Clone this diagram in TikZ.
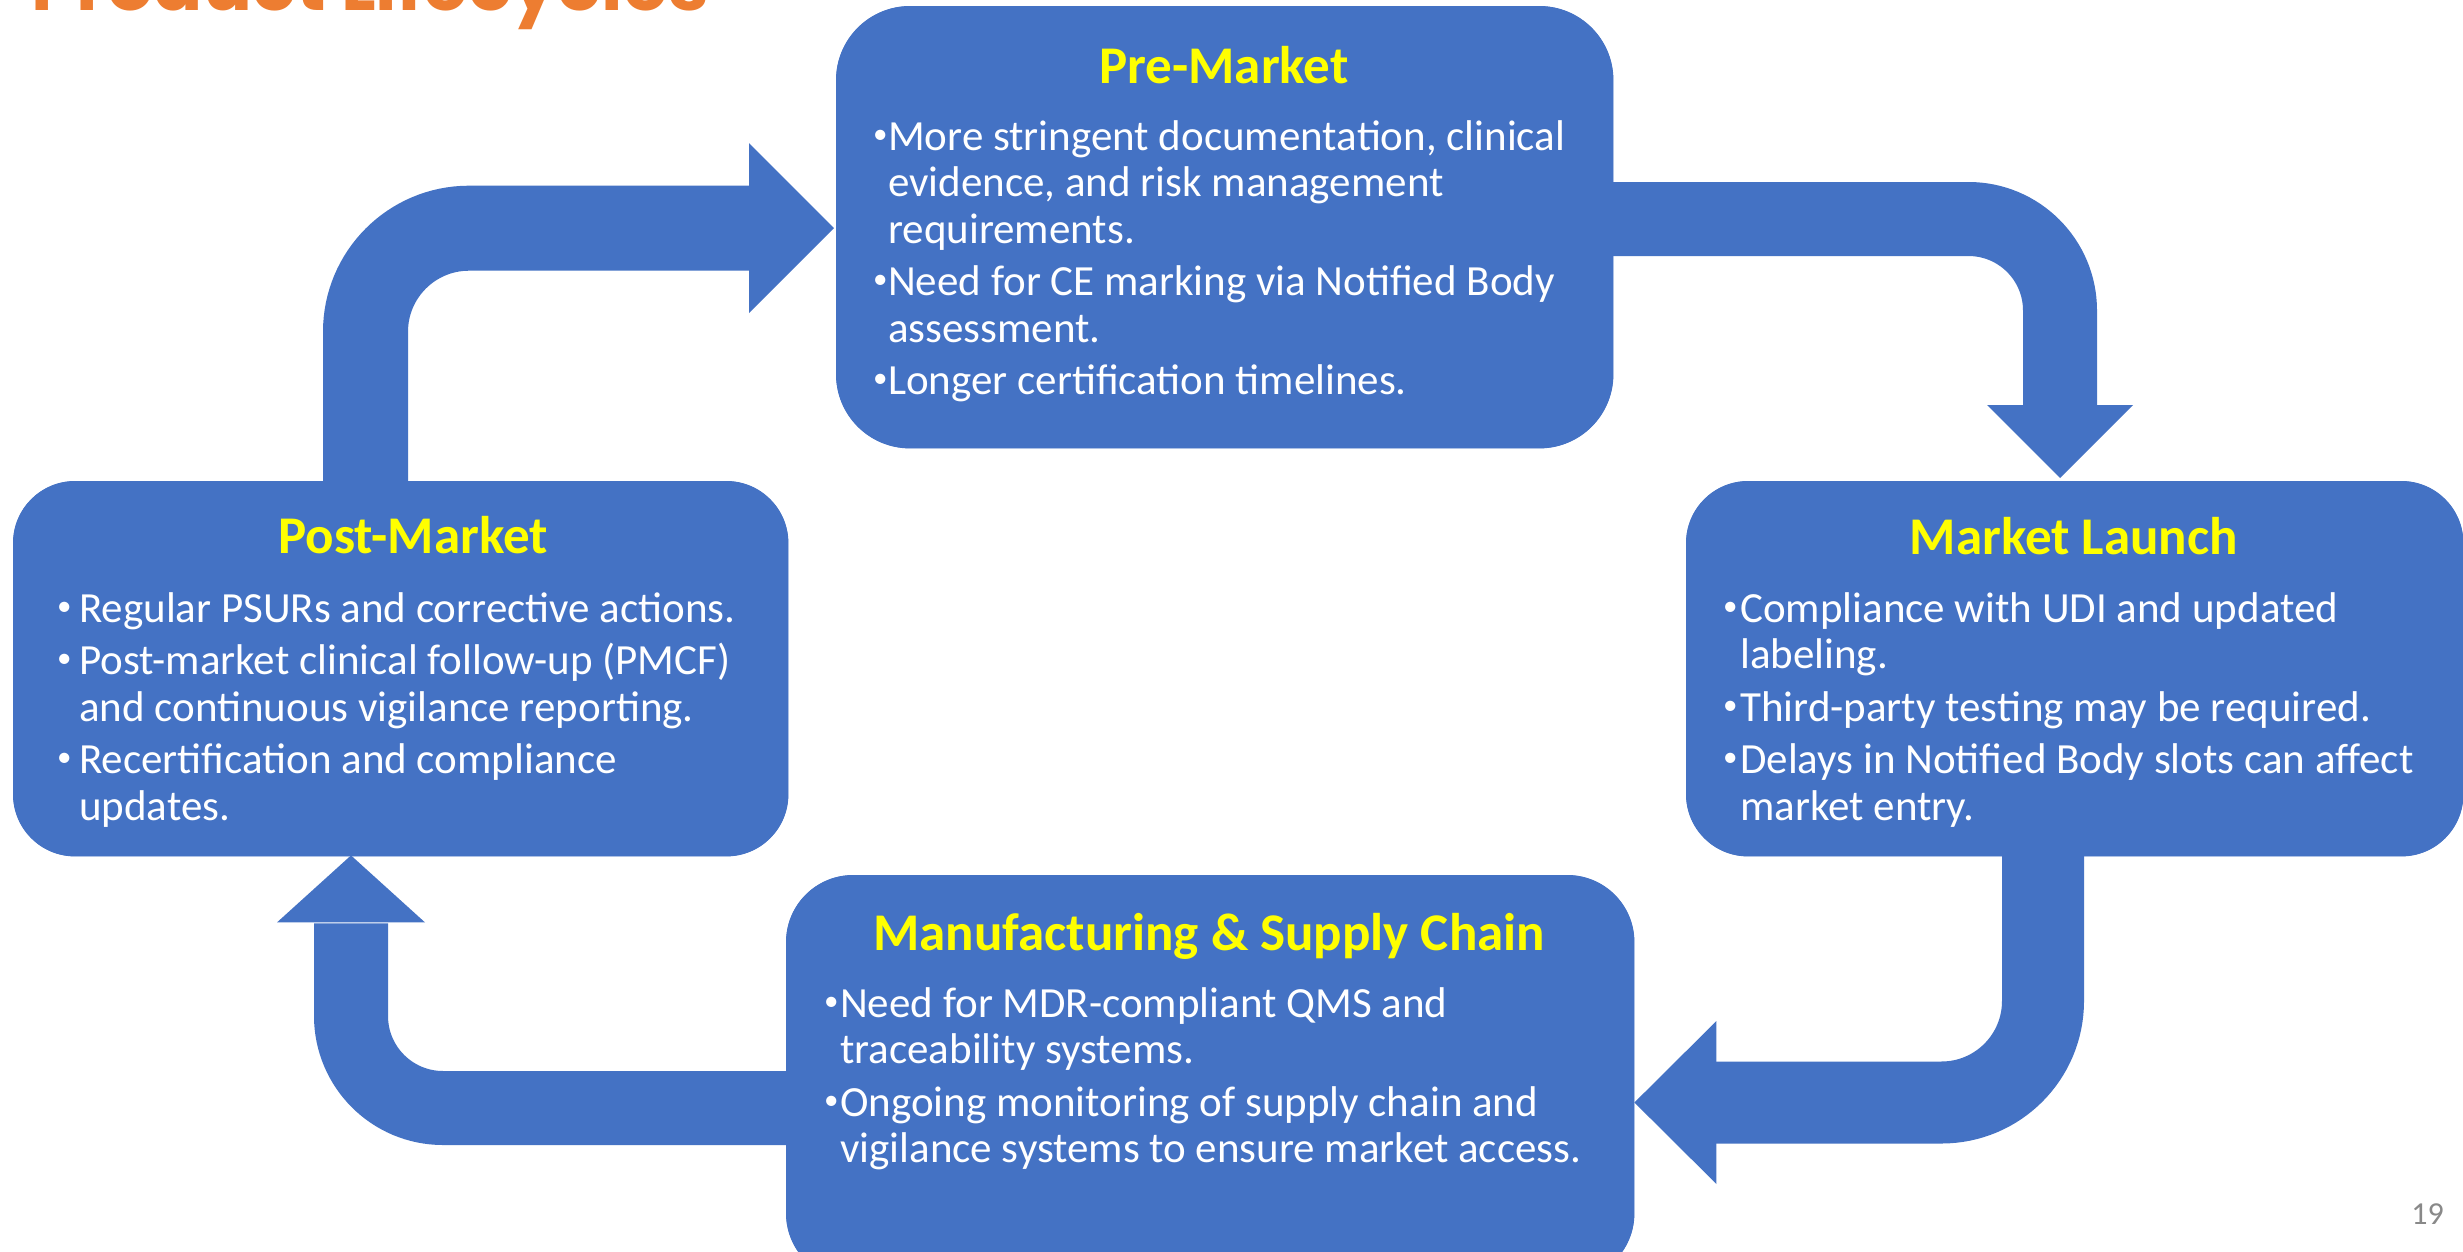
\documentclass[tikz,border=0pt]{standalone}
\usepackage{graphicx}
\usepackage{fontspec}
\setmainfont{Carlito}
\newfontfamily\headfont{Poppins}
\usetikzlibrary{calc}

\definecolor{boxblue}{HTML}{4472C4}
\definecolor{headyellow}{HTML}{FFFF00}
\definecolor{titleorange}{HTML}{ED7D31}
\definecolor{numgray}{HTML}{898989}

% hanging bullets for the stage descriptions
\newlength\bulw
\newcommand\bitem{\makebox[\bulw][l]{\raisebox{7pt}{\fontsize{29}{29}\selectfont\textbullet}}}
\newcommand\bcont{\hspace*{\bulw}}

\tikzset{
  stage/.style={fill=boxblue, draw=none, inner sep=0pt, anchor=north west},
  stagehead/.style={anchor=base, inner sep=0pt, text=headyellow,
    font=\fontsize{53}{53}\selectfont\bfseries},
  stagebody/.style={anchor=north west, inner sep=0pt, text=white, align=left,
    font=\fontsize{43}{46.5}\selectfont},
  band/.style={draw=boxblue, line width=#1},
  headfill/.style={fill=boxblue, draw=none},
}

\begin{document}
\begin{tikzpicture}[x=1pt, y=-1pt]
  \useasboundingbox (0,0) rectangle (2463,1251);
  \fill[white] (0,0) rectangle (2463,1251);
  \clip (0,0) rectangle (2463,1251);

  % slide title (runs off the top edge)
  \node[anchor=base west, inner sep=0pt, text=titleorange] (slidetitle) at (31,10)
    {\resizebox{677pt}{!}{\headfont\bfseries Product Lifecycles}};

  % stage boxes (placed first so the arrows can refer to them)
  \path
    (836,6)   node[stage, minimum width=777pt, minimum height=442pt, rounded corners=74pt] (pre) {}
    (13,481)  node[stage, minimum width=775pt, minimum height=375pt, rounded corners=62pt] (post) {}
    (1686,481) node[stage, minimum width=777pt, minimum height=375pt, rounded corners=62pt] (mkt) {}
    (786,875) node[stage, minimum width=848pt, minimum height=405pt, rounded corners=67pt] (mfg) {};

  % cycle arrows: Post-Market -> Pre-Market
  \coordinate (a1s) at ($(post.north west)+(352.5,1)$);
  \coordinate (a1t) at ($(pre.west)+(-2,1)$);
  \coordinate (a1b) at ($(a1t)+(-85,0)$);
  \draw[band=85pt, rounded corners=103.5pt] (a1s) |- ($(a1b)+(1,0)$);
  \fill[headfill] ($(a1b)+(0,-85)$) -- (a1t) -- ($(a1b)+(0,85)$) -- cycle;

  % Pre-Market -> Market Launch
  \coordinate (a2s) at ($(pre.north east)+(-1,213)$);
  \coordinate (a2t) at ($(mkt.north west)+(374,-3)$);
  \coordinate (a2b) at ($(a2t)+(0,-73)$);
  \draw[band=74pt, rounded corners=91.5pt] (a2s) -| ($(a2b)+(0,1)$);
  \fill[headfill] ($(a2b)+(-73,0)$) -- (a2t) -- ($(a2b)+(73,0)$) -- cycle;

  % Market Launch -> Manufacturing & Supply Chain
  \coordinate (a3s) at ($(mkt.south west)+(357,-1)$);
  \coordinate (a3t) at ($(mfg.north east)+(0,227.5)$);
  \coordinate (a3b) at ($(a3t)+(82,0)$);
  \draw[band=82pt, rounded corners=101.5pt] (a3s) |- ($(a3b)+(-1,0)$);
  \fill[headfill] ($(a3b)+(0,-81.5)$) -- (a3t) -- ($(a3b)+(0,81.5)$) -- cycle;

  % Manufacturing & Supply Chain -> Post-Market
  \coordinate (a4s) at ($(mfg.north west)+(1,233)$);
  \coordinate (a4t) at ($(post.south west)+(338,-1)$);
  \coordinate (a4b) at ($(a4t)+(0,67)$);
  \draw[band=74pt, rounded corners=92pt] (a4s) -| ($(a4b)+(0,1)$);
  \fill[headfill] ($(a4b)+(-74,0)$) -- (a4t) -- ($(a4b)+(74,0)$) -- cycle;

  % redraw the boxes over the arrow ends
  \fill[boxblue, rounded corners=74pt] (pre.north west) rectangle (pre.south east);
  \fill[boxblue, rounded corners=62pt] (post.north west) rectangle (post.south east);
  \fill[boxblue, rounded corners=62pt] (mkt.north west) rectangle (mkt.south east);
  \fill[boxblue, rounded corners=67pt] (mfg.north west) rectangle (mfg.south east);

  % Pre-Market
  \node[stagehead] (preHead) at (1224,83) {Pre-Market};
  \setlength\bulw{15pt}
  \node[stagebody] (preBody) at (873,110) {%
    \rule{0pt}{40pt}\bitem More stringent documentation, clinical\\
    \bcont evidence, and risk management\\
    \bcont requirements.\\[6pt]
    \bitem Need for CE marking via Notified Body\\
    \bcont assessment.\\[6pt]
    \bitem Longer certification timelines.};

  % Post-Market
  \node[stagehead] (postHead) at (413,553) {Post-Market};
  \setlength\bulw{22pt}
  \node[stagebody] (postBody) at (57,582) {%
    \rule{0pt}{40pt}\bitem Regular PSURs and corrective actions.\\[6pt]
    \bitem Post-market clinical follow-up (PMCF)\\
    \bcont and continuous vigilance reporting.\\[6pt]
    \bitem Recertification and compliance\\
    \bcont updates.};

  % Market Launch
  \node[stagehead] (mktHead) at (2074,554) {Market Launch};
  \setlength\bulw{17pt}
  \node[stagebody] (mktBody) at (1723,582) {%
    \rule{0pt}{40pt}\bitem Compliance with UDI and updated\\
    \bcont labeling.\\[6pt]
    \bitem Third-party testing may be required.\\[6pt]
    \bitem Delays in Notified Body slots can affect\\
    \bcont market entry.};

  % Manufacturing & Supply Chain
  \node[stagehead] (mfgHead) at (1209,950) {Manufacturing \& Supply Chain};
  \setlength\bulw{16pt}
  \node[stagebody] (mfgBody) at (824,977) {%
    \rule{0pt}{40pt}\bitem Need for MDR-compliant QMS and\\
    \bcont traceability systems.\\[6pt]
    \bitem Ongoing monitoring of supply chain and\\
    \bcont vigilance systems to ensure market access.};

  % page number
  \node[anchor=base east, inner sep=0pt, text=numgray,
        font=\fontsize{32}{32}\selectfont] (pagenum) at (2444,1224) {19};
\end{tikzpicture}
\end{document}
